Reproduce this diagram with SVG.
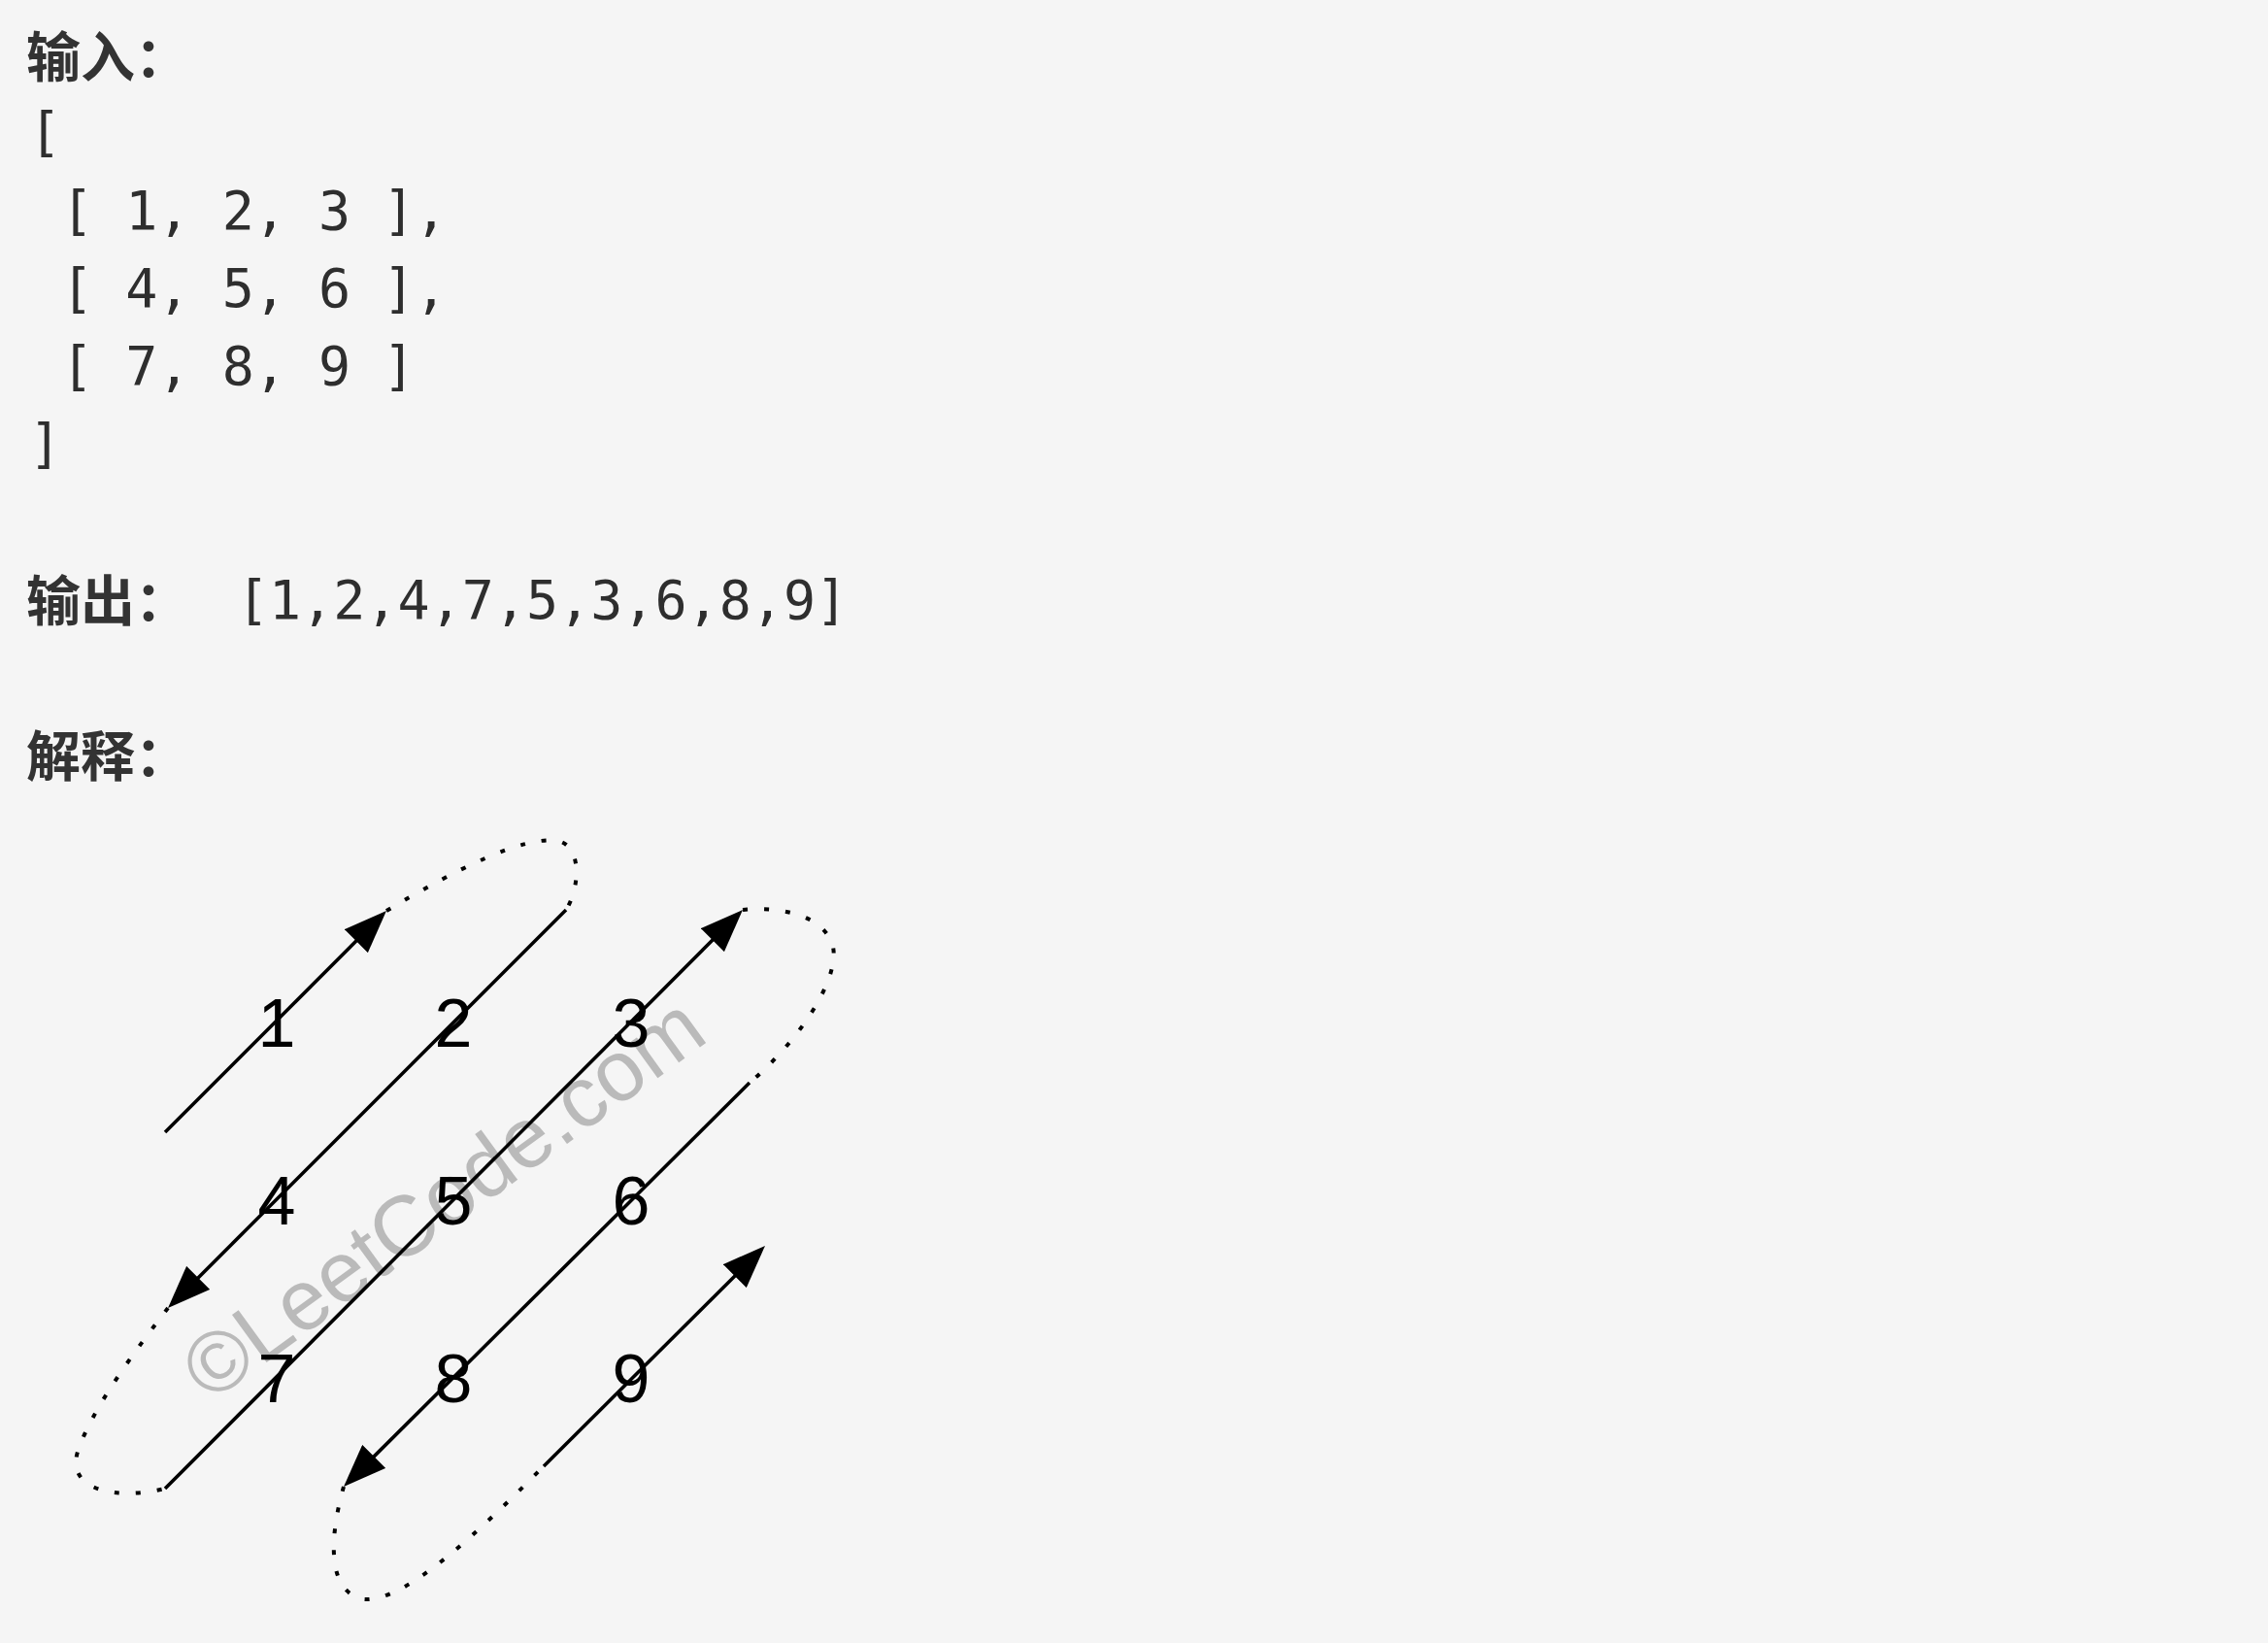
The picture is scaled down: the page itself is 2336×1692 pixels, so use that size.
<svg xmlns="http://www.w3.org/2000/svg" width="2336" height="1692" viewBox="0 0 2336 1692">
<style>
.cjk{font-family:"Noto Sans CJK SC","Noto Sans",sans-serif;font-weight:bold;font-size:56px;fill:#333}
.mono{font-family:"DejaVu Sans Mono",monospace;font-size:55px;fill:#2e2e2e;white-space:pre}
.num{font-family:"Liberation Sans",Arial,sans-serif;font-size:70px;fill:#000;text-anchor:middle}
.wm{font-family:"Liberation Sans",Arial,sans-serif;font-size:88px;fill:#b4b4b4;fill-opacity:0.9;text-anchor:middle}
.ln{fill:none;stroke:#000;stroke-width:3.6}
.arr{marker-end:url(#ah)}
.dot{fill:none;stroke:#000;stroke-width:4;stroke-dasharray:5 17}
</style>
<defs>
<marker id="ah" markerUnits="userSpaceOnUse" markerWidth="44" markerHeight="34" viewBox="0 0 44 34" refX="34" refY="17" orient="auto">
<path d="M0,0 L44,17 L0,34 z" fill="#000"/>
</marker>
</defs>
<rect width="2336" height="1692" fill="#f5f5f5"/>
<g id="text-block">
<text class="cjk" x="27" y="79">输入：</text>
<text class="mono" x="30" y="155" xml:space="preserve">[</text>
<text class="mono" x="30" y="236" xml:space="preserve"> [ 1, 2, 3 ],</text>
<text class="mono" x="30" y="316" xml:space="preserve"> [ 4, 5, 6 ],</text>
<text class="mono" x="30" y="396" xml:space="preserve"> [ 7, 8, 9 ]</text>
<text class="mono" x="30" y="476" xml:space="preserve">]</text>
<text class="cjk" x="27" y="639">输出：</text>
<text class="mono" x="244" y="637" xml:space="preserve">[1,2,4,7,5,3,6,8,9]</text>
<text class="cjk" x="27" y="799">解释：</text>
</g>
<g id="watermark">
<text class="wm" transform="translate(474,1258) rotate(-36)" x="0" y="0">©LeetCode.com</text>
</g>
<g id="connectors">
<path class="ln arr" d="M170,1166 L390.9,945.1"/>
<path class="ln arr" d="M583,937 L180.1,1339.9"/>
<path class="ln arr" d="M170,1533 L757.9,944.1"/>
<path class="ln arr" d="M772,1115 L361.1,1523.9"/>
<path class="ln arr" d="M560,1510 L780.9,1290.1"/>
<path class="dot" d="M398,938 C470,895 540,860 575,866 C600,872 597,915 583,937"/>
<path class="dot" d="M765,937 C810,933 850,945 858,975 C865,1010 820,1075 772,1115"/>
<path class="dot" d="M173,1347 C140,1390 95,1450 80,1495 C68,1535 120,1545 170,1533"/>
<path class="dot" d="M354,1531 C340,1580 335,1640 375,1647 C420,1650 500,1570 560,1510"/>
</g>
<g id="node-1"><text class="num" x="285" y="1078">1</text></g>
<g id="node-2"><text class="num" x="467" y="1078">2</text></g>
<g id="node-3"><text class="num" x="650" y="1078">3</text></g>
<g id="node-4"><text class="num" x="285" y="1261">4</text></g>
<g id="node-5"><text class="num" x="467" y="1261">5</text></g>
<g id="node-6"><text class="num" x="650" y="1261">6</text></g>
<g id="node-7"><text class="num" x="285" y="1444">7</text></g>
<g id="node-8"><text class="num" x="467" y="1444">8</text></g>
<g id="node-9"><text class="num" x="650" y="1444">9</text></g>
</svg>
